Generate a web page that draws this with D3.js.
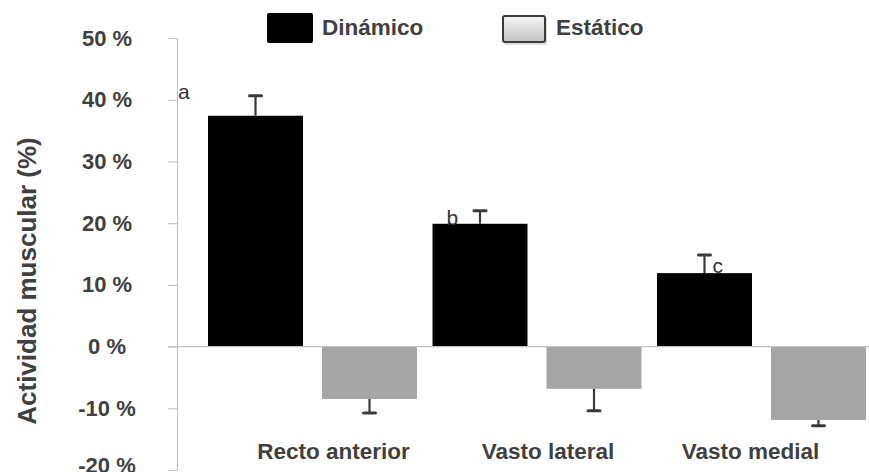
<!DOCTYPE html>
<html lang="es">
<head>
<meta charset="utf-8">
<script src="https://cdn.jsdelivr.net/npm/d3@7"></script>
<style>
  html, body { margin: 0; padding: 0; background: #ffffff; }
  svg { display: block; }
  text { font-family: "Liberation Sans", Arial, sans-serif; }
</style>
</head>
<body>
<svg id="chart" width="869" height="472"></svg>
<script>
// Muscle activity per muscle, dynamic vs static exercise (mean and error)
const categories = ["Recto anterior", "Vasto lateral", "Vasto medial"];
const seriesNames = ["Dinámico", "Estático"];
const dinamico = [37.4, 19.9, 11.9];
const dinamicoErr = [3.25, 2.1, 2.95];
const estatico = [-8.5, -6.85, -11.9];
const estaticoErr = [2.25, 3.55, 0.95];
const yTicks = [50, 40, 30, 20, 10, 0, -10, -20];
const letters = ["a", "b", "c"];

const seriesValues = [dinamico, estatico];
const seriesErrors = [dinamicoErr, estaticoErr];
const seriesFill = ["#000000", "#a5a5a5"];
const textColor = "#404040";
const gridColor = "#c4c4c4";

const svg = d3.select("#chart");
const axisX = 177;

const y = d3.scaleLinear().domain([-20, 50]).range([470, 38]);

// One band per muscle, split into a dark and a gray bar
const x = d3.scaleBand().domain(categories).range([axisX, axisX + 3 * 224.5]).paddingInner(0);
const xs = d3.scaleBand().domain(seriesNames).range([31, 240]).paddingInner(19 / 114);

// Defs: gradient for the static legend key
const defs = svg.append("defs");
const grad = defs.append("linearGradient").attr("id", "keyGrad")
  .attr("x1", 0).attr("y1", 0).attr("x2", 0).attr("y2", 1);
grad.append("stop").attr("offset", "0%").attr("stop-color", "#f6f6f6");
grad.append("stop").attr("offset", "100%").attr("stop-color", "#c2c2c2");

// Y axis
const yAxis = d3.axisLeft(y).tickValues(yTicks).tickSize(9).tickSizeOuter(0)
  .tickFormat(d => d + " %");
const gy = svg.append("g").attr("transform", `translate(${axisX},0)`).call(yAxis);
gy.select(".domain").attr("stroke", gridColor).attr("stroke-width", 1.2);
gy.selectAll(".tick line").attr("stroke", gridColor).attr("stroke-width", 1.2);
gy.selectAll(".tick text")
  .attr("x", 107 - axisX)
  .attr("text-anchor", "middle")
  .attr("fill", textColor)
  .style("font-size", "22px")
  .style("font-weight", "bold");
// lowest label sits slightly higher at the bottom edge
gy.selectAll(".tick text").filter(d => d === -20).attr("y", -5);

// Axis title
svg.append("text")
  .attr("transform", "translate(36,281) rotate(-90)")
  .attr("text-anchor", "middle")
  .attr("fill", textColor)
  .style("font-size", "26px")
  .style("font-weight", "bold")
  .text("Actividad muscular (%)");

// Bars
const bars = [];
seriesNames.forEach((s, si) => {
  categories.forEach((c, ci) => {
    bars.push({ s, si, c, ci, v: seriesValues[si][ci], e: seriesErrors[si][ci] });
  });
});

svg.append("g").selectAll("rect")
  .data(bars)
  .join("rect")
  .attr("x", d => x(d.c) + xs(d.s))
  .attr("width", xs.bandwidth())
  .attr("y", d => y(Math.max(0, d.v)))
  .attr("height", d => Math.abs(y(d.v) - y(0)))
  .attr("fill", d => seriesFill[d.si]);

// Zero line
svg.append("line")
  .attr("x1", axisX - 9).attr("x2", 869)
  .attr("y1", y(0)).attr("y2", y(0))
  .attr("stroke", gridColor).attr("stroke-width", 1.2);

// Error bars (outward direction only)
const eg = svg.append("g").attr("stroke", "#3a3a3a");
bars.forEach(d => {
  const cx = x(d.c) + xs(d.s) + xs.bandwidth() / 2;
  const end = d.v >= 0 ? d.v + d.e : d.v - d.e;
  eg.append("line")
    .attr("x1", cx).attr("x2", cx)
    .attr("y1", y(d.v)).attr("y2", y(end))
    .attr("stroke-width", 2.2);
  eg.append("line")
    .attr("x1", cx - 6).attr("x2", cx + 6)
    .attr("y1", y(end)).attr("y2", y(end))
    .attr("stroke-width", 3)
    .attr("stroke-linecap", "round");
});

// Significance letters
const darkX = ci => x(categories[ci]) + xs(seriesNames[0]);
const darkMid = ci => darkX(ci) + xs.bandwidth() / 2;
const letterPos = [
  { x: axisX + 1, y: y(dinamico[0] + dinamicoErr[0] - 0.5) },
  { x: darkX(1) + 14, y: y(dinamico[1]) + 1 },
  { x: darkMid(2) + 8, y: y(dinamico[2]) }
];
svg.append("g").selectAll("text")
  .data(letters)
  .join("text")
  .attr("x", (d, i) => letterPos[i].x)
  .attr("y", (d, i) => letterPos[i].y)
  .attr("fill", "#333333")
  .style("font-size", "21px")
  .text(d => d);

// Category labels
const labelShift = [21, 11, -11];
svg.append("g").selectAll("text")
  .data(categories)
  .join("text")
  .attr("x", (d, i) => x(d) + xs.range()[0] + (xs.range()[1] - xs.range()[0]) / 2 + labelShift[i])
  .attr("y", 459)
  .attr("text-anchor", "middle")
  .attr("fill", textColor)
  .style("font-size", "22.5px")
  .style("font-weight", "bold")
  .text(d => d);

// Legend
const legend = svg.append("g");
legend.append("rect")
  .attr("x", 267).attr("y", 13).attr("width", 46).attr("height", 30)
  .attr("rx", 2).attr("fill", "#000000");
legend.append("text")
  .attr("x", 322).attr("y", 35)
  .attr("fill", textColor)
  .style("font-size", "22.5px").style("font-weight", "bold")
  .text(seriesNames[0]);
legend.append("rect")
  .attr("x", 504).attr("y", 18).attr("width", 43).attr("height", 27)
  .attr("rx", 2).attr("fill", "#d0d0d0").attr("opacity", 0.7);
legend.append("rect")
  .attr("x", 503).attr("y", 16).attr("width", 42).attr("height", 26)
  .attr("rx", 2).attr("fill", "url(#keyGrad)")
  .attr("stroke", "#3a3a3a").attr("stroke-width", 2);
legend.append("text")
  .attr("x", 556).attr("y", 35)
  .attr("fill", textColor)
  .style("font-size", "22.5px").style("font-weight", "bold")
  .text(seriesNames[1]);
</script>
</body>
</html>
